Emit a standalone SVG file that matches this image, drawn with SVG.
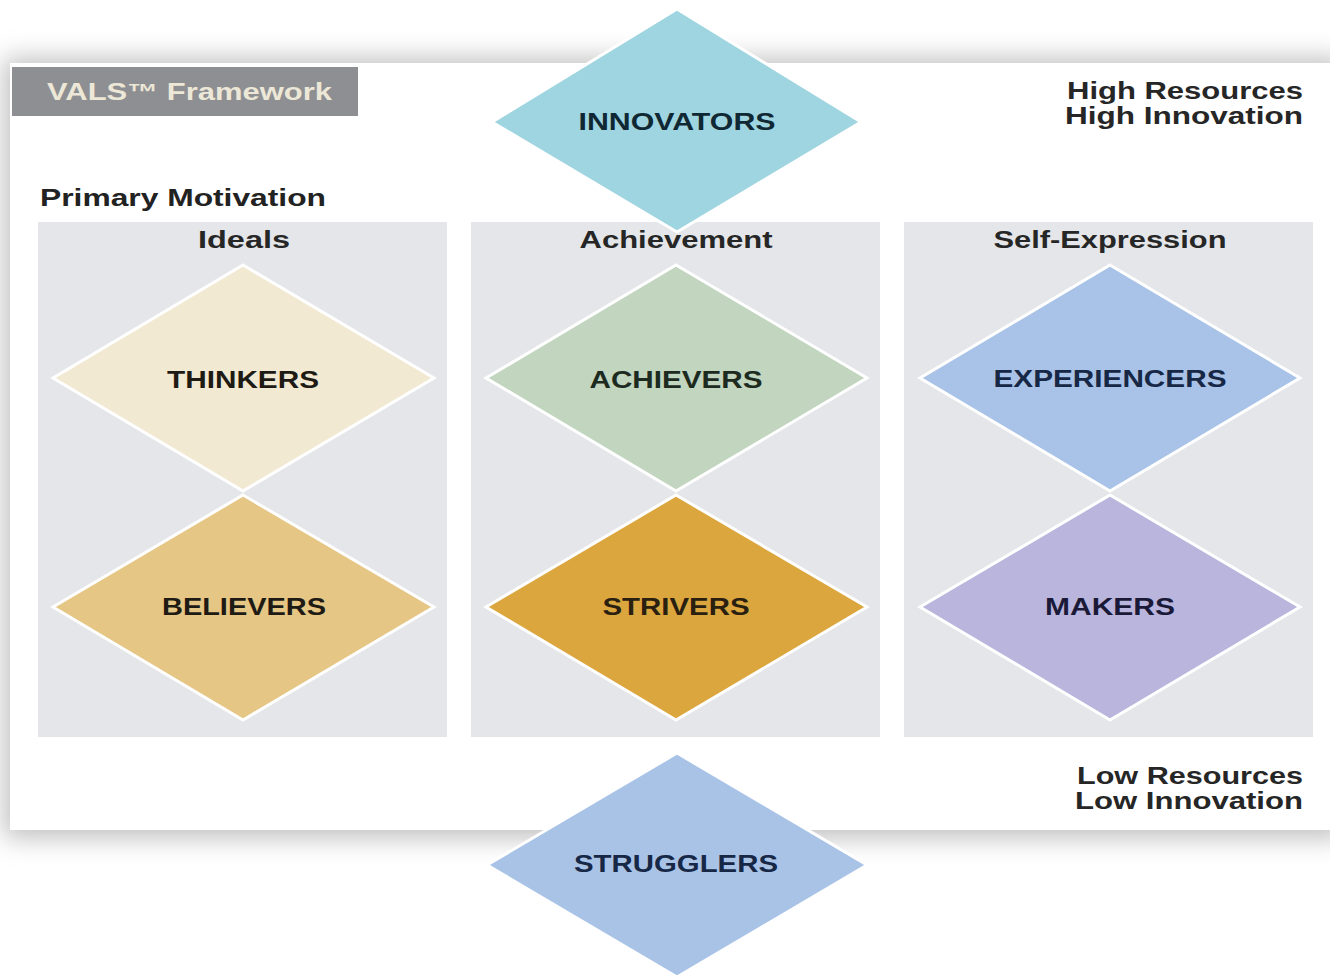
<svg xmlns="http://www.w3.org/2000/svg" width="1330" height="979" viewBox="0 0 1330 979">
  <style>
    .t { font-family: "Liberation Sans", Arial, sans-serif; font-weight: bold; }
    .lbl { font-size: 24px; text-anchor: middle; }
    .hdr { font-size: 23px; fill: #262626; text-anchor: middle; }
    .side { font-size: 23px; fill: #262626; text-anchor: end; }
    .col { fill: #e4e6e9; }
    .dia { stroke: #ffffff; stroke-width: 3; stroke-linejoin: miter; }
  </style>
  <defs>
    <filter id="cardShadow" x="-5%" y="-10%" width="110%" height="120%">
      <feGaussianBlur stdDeviation="13"/>
    </filter>
  </defs>

  <rect width="1330" height="979" fill="#ffffff"/>

  <!-- card with soft shadow -->
  <g id="card">
    <rect x="4" y="58" width="1340" height="780" fill="#959595" opacity="0.6" filter="url(#cardShadow)"/>
    <rect x="10" y="63" width="1330" height="767" fill="#ffffff"/>
    <rect x="12" y="67" width="346" height="49" fill="#8e8f93"/>
    <text class="t" x="47" y="100" font-size="23" fill="#ece7d6" textLength="285" lengthAdjust="spacingAndGlyphs">VALS™ Framework</text>
    <text class="t" x="40" y="206" font-size="23" fill="#222222" textLength="286" lengthAdjust="spacingAndGlyphs">Primary Motivation</text>
    <text class="t side" x="1303" y="99" textLength="236" lengthAdjust="spacingAndGlyphs">High Resources</text>
    <text class="t side" x="1303" y="124" textLength="238" lengthAdjust="spacingAndGlyphs">High Innovation</text>
    <text class="t side" x="1303" y="784" textLength="226" lengthAdjust="spacingAndGlyphs">Low Resources</text>
    <text class="t side" x="1303" y="809" textLength="228" lengthAdjust="spacingAndGlyphs">Low Innovation</text>
  </g>

  <!-- motivation columns -->
  <g id="col-ideals">
    <rect class="col" x="38" y="222" width="409" height="515"/>
    <text class="t hdr" x="244" y="248" textLength="92" lengthAdjust="spacingAndGlyphs">Ideals</text>
  </g>
  <g id="col-achievement">
    <rect class="col" x="471" y="222" width="409" height="515"/>
    <text class="t hdr" x="676" y="248" textLength="193" lengthAdjust="spacingAndGlyphs">Achievement</text>
  </g>
  <g id="col-selfexpression">
    <rect class="col" x="904" y="222" width="409" height="515"/>
    <text class="t hdr" x="1110" y="248" textLength="233" lengthAdjust="spacingAndGlyphs">Self-Expression</text>
  </g>

  <!-- segment diamonds -->
  <g id="innovators">
    <polygon class="dia" points="677,9 861,122 677,232 492,122" fill="#9fd5e0"/>
    <text class="t lbl" x="677" y="130" fill="#0f2833" textLength="197" lengthAdjust="spacingAndGlyphs">INNOVATORS</text>
  </g>
  <g id="thinkers">
    <polygon class="dia" points="243,265 434,378 243,491 53,378" fill="#f1e9d2"/>
    <text class="t lbl" x="243" y="388" fill="#1e1a14" textLength="152" lengthAdjust="spacingAndGlyphs">THINKERS</text>
  </g>
  <g id="believers">
    <polygon class="dia" points="243,495 434,607 243,720 53,607" fill="#e5c684"/>
    <text class="t lbl" x="244" y="615" fill="#1e1a14" textLength="164" lengthAdjust="spacingAndGlyphs">BELIEVERS</text>
  </g>
  <g id="achievers">
    <polygon class="dia" points="676,265 867,378 676,491 486,378" fill="#c1d5bf"/>
    <text class="t lbl" x="676" y="388" fill="#1c2a20" textLength="173" lengthAdjust="spacingAndGlyphs">ACHIEVERS</text>
  </g>
  <g id="strivers">
    <polygon class="dia" points="676,495 867,607 676,720 486,607" fill="#dca63f"/>
    <text class="t lbl" x="676" y="615" fill="#2a2010" textLength="147" lengthAdjust="spacingAndGlyphs">STRIVERS</text>
  </g>
  <g id="experiencers">
    <polygon class="dia" points="1110,265 1300,378 1110,491 920,378" fill="#a8c3e7"/>
    <text class="t lbl" x="1110" y="387" fill="#172746" textLength="233" lengthAdjust="spacingAndGlyphs">EXPERIENCERS</text>
  </g>
  <g id="makers">
    <polygon class="dia" points="1110,495 1300,607 1110,720 920,607" fill="#b9b5dd"/>
    <text class="t lbl" x="1110" y="615" fill="#1a1a38" textLength="130" lengthAdjust="spacingAndGlyphs">MAKERS</text>
  </g>
  <g id="strugglers">
    <polygon class="dia" points="677,753 867,865 677,977 487,865" fill="#a9c3e7"/>
    <text class="t lbl" x="676" y="872" fill="#172746" textLength="204" lengthAdjust="spacingAndGlyphs">STRUGGLERS</text>
  </g>
</svg>
